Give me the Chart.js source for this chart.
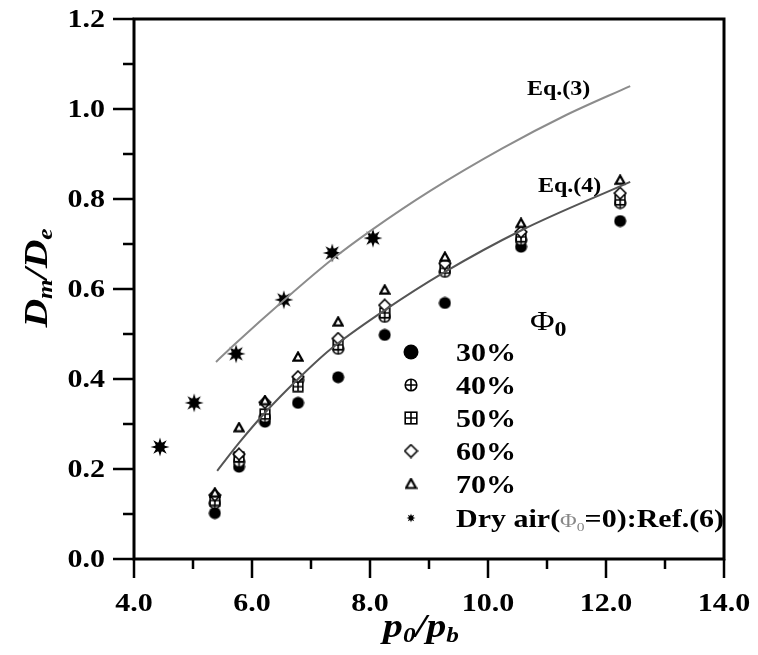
<!DOCTYPE html>
<html>
<head>
<meta charset="utf-8">
<script src="https://cdn.jsdelivr.net/npm/chart.js@4.4.0/dist/chart.umd.min.js"></script>
<style>
  html, body { margin: 0; padding: 0; background: #fff; }
  #chart { display: block; }
</style>
</head>
<body>
<canvas id="chart" width="758" height="655"></canvas>
<script>
// Measured points, x = p0/pb, y = Dm/De
const pressureRatio = [5.37, 5.78, 6.22, 6.78, 7.46, 8.25, 9.27, 10.56, 12.24];
const phi30 = [0.102, 0.205, 0.305, 0.347, 0.404, 0.498, 0.569, 0.694, 0.751];
const phi40 = [0.124, 0.216, 0.315, 0.398, 0.467, 0.538, 0.638, 0.709, 0.791];
const phi50 = [0.130, 0.227, 0.322, 0.383, 0.476, 0.547, 0.646, 0.716, 0.798];
const phi60 = [0.142, 0.233, 0.348, 0.405, 0.490, 0.564, 0.657, 0.727, 0.813];
const phi70 = [0.147, 0.292, 0.352, 0.449, 0.527, 0.598, 0.671, 0.746, 0.842];

// Dry air reference data
const dryAirX = [4.44, 5.02, 5.73, 6.54, 7.36, 8.05];
const dryAirY = [0.249, 0.347, 0.456, 0.576, 0.680, 0.713];

// Curves
const eq3X = [5.39, 5.73, 6.54, 7.36, 8.05, 9.02, 10.25, 11.30, 12.41];
const eq3Y = [0.438, 0.480, 0.575, 0.666, 0.733, 0.818, 0.913, 0.985, 1.051];
const eq4X = [5.41, 5.78, 6.22, 6.78, 7.32, 8.25, 9.27, 10.56, 12.41];
const eq4Y = [0.196, 0.258, 0.325, 0.400, 0.465, 0.553, 0.638, 0.730, 0.838];

// Axis ticks
const xTickValues = [4, 6, 8, 10, 12, 14];
const xTickLabels = ['4.0', '6.0', '8.0', '10.0', '12.0', '14.0'];
const yTickValues = [0, 0.2, 0.4, 0.6, 0.8, 1.0, 1.2];
const yTickLabels = ['0.0', '0.2', '0.4', '0.6', '0.8', '1.0', '1.2'];

const serif = '"Liberation Serif", "Times New Roman", serif';
const STRETCH = 1.2; // the source figure's lettering is a bit wide

// Build a small canvas used as a point style
function makeMarker(kind, size) {
    const c = document.createElement('canvas');
    c.width = size; c.height = size;
    const g = c.getContext('2d');
    const m = size / 2;
    g.strokeStyle = '#000';
    g.fillStyle = '#000';
    g.lineWidth = 1.6;
    if (kind === 'dot') {
        g.beginPath(); g.arc(m, m, m - 0.5, 0, Math.PI * 2); g.fill();
    } else if (kind === 'circlePlus') {
        const r = m - 1.2;
        g.fillStyle = '#fff';
        g.beginPath(); g.arc(m, m, r, 0, Math.PI * 2); g.fill(); g.stroke();
        g.beginPath(); g.moveTo(m - r, m); g.lineTo(m + r, m); g.moveTo(m, m - r); g.lineTo(m, m + r); g.stroke();
    } else if (kind === 'squarePlus') {
        const r = m - 1.2;
        g.fillStyle = '#fff';
        g.fillRect(m - r, m - r, 2 * r, 2 * r);
        g.strokeRect(m - r, m - r, 2 * r, 2 * r);
        g.beginPath(); g.moveTo(m - r, m); g.lineTo(m + r, m); g.moveTo(m, m - r); g.lineTo(m, m + r); g.stroke();
    } else if (kind === 'diamond') {
        const r = m - 1.2;
        g.fillStyle = '#fff';
        g.beginPath(); g.moveTo(m, m - r); g.lineTo(m + r, m); g.lineTo(m, m + r); g.lineTo(m - r, m); g.closePath();
        g.fill(); g.stroke();
    } else if (kind === 'triangle') {
        const r = m - 1.5;
        g.lineWidth = 2.2;
        g.fillStyle = '#fff';
        g.beginPath(); g.moveTo(m, m - r); g.lineTo(m + r, m + r * 0.8); g.lineTo(m - r, m + r * 0.8); g.closePath();
        g.fill(); g.stroke();
    } else if (kind === 'star') {
        const outer = m - 0.5, inner = m * 0.42;
        g.beginPath();
        for (let i = 0; i < 16; i++) {
            const a = i * Math.PI / 8 - Math.PI / 2;
            const r = i % 2 === 0 ? outer : inner;
            g.lineTo(m + r * Math.cos(a), m + r * Math.sin(a));
        }
        g.closePath(); g.fill();
        g.beginPath(); g.arc(m, m, m * 0.48, 0, Math.PI * 2); g.fill();
    }
    return c;
}

const markers = {
    p30: makeMarker('dot', 13),
    p40: makeMarker('circlePlus', 13),
    p50: makeMarker('squarePlus', 12),
    p60: makeMarker('diamond', 14),
    p70: makeMarker('triangle', 12),
    dry: makeMarker('star', 20)
};
const legendMarkers = {
    p30: makeMarker('dot', 16),
    p40: makeMarker('circlePlus', 14),
    p50: makeMarker('squarePlus', 14),
    p60: makeMarker('diamond', 15),
    p70: makeMarker('triangle', 13),
    dry: makeMarker('star', 10)
};

const toPoints = (xs, ys) => xs.map((x, i) => ({ x: x, y: ys[i] }));

function pointSet(label, ys, marker) {
    return {
        label: label,
        data: toPoints(pressureRatio, ys),
        showLine: false,
        pointStyle: marker,
        pointRadius: 6,
        pointHoverRadius: 6
    };
}

// Draw text made of pieces (used for subscripts), stretched horizontally
function drawPieces(ctx, parts, x, y, align) {
    let total = 0;
    parts.forEach(p => { ctx.font = p.font; p.w = ctx.measureText(p.t).width; total += p.w; });
    ctx.save();
    ctx.translate(x, y);
    ctx.scale(STRETCH, 1);
    let cx = align === 'center' ? -total / 2 : (align === 'right' ? -total : 0);
    ctx.textAlign = 'left';
    ctx.textBaseline = 'alphabetic';
    parts.forEach(p => {
        ctx.font = p.font;
        ctx.fillStyle = p.color || '#000';
        ctx.fillText(p.t, cx, p.dy || 0);
        cx += p.w;
    });
    ctx.restore();
}

const decorations = {
    id: 'decorations',
    afterDraw(chart) {
        const ctx = chart.ctx;
        const { left, right, top, bottom } = chart.chartArea;
        const xs = chart.scales.x, ys = chart.scales.y;
        ctx.save();
        ctx.strokeStyle = '#000';
        ctx.lineWidth = 3;
        ctx.strokeRect(left, top, right - left, bottom - top);

        // ticks: major and minor, pointing outward
        ctx.lineWidth = 2.5;
        ctx.beginPath();
        for (let v = 4; v <= 14; v += 1) {
            const px = xs.getPixelForValue(v);
            const len = v % 2 === 0 ? 19 : 10;
            ctx.moveTo(px, bottom); ctx.lineTo(px, bottom + len);
        }
        for (let k = 0; k <= 12; k++) {
            const py = ys.getPixelForValue(k / 10);
            const len = k % 2 === 0 ? 21 : 11;
            ctx.moveTo(left, py); ctx.lineTo(left - len, py);
        }
        ctx.stroke();

        // tick labels
        const tickFont = 'bold 25px ' + serif;
        xTickValues.forEach((v, i) => {
            drawPieces(ctx, [{ t: xTickLabels[i], font: tickFont }], xs.getPixelForValue(v), 611, 'center');
        });
        yTickValues.forEach((v, i) => {
            drawPieces(ctx, [{ t: yTickLabels[i], font: tickFont }], 105, ys.getPixelForValue(v) + 8, 'right');
        });

        // equation labels
        const eqFont = 'bold 20px ' + serif;
        drawPieces(ctx, [{ t: 'Eq.(3)', font: eqFont }], 527, 95, 'left');
        drawPieces(ctx, [{ t: 'Eq.(4)', font: eqFont }], 538, 192, 'left');

        // legend
        drawPieces(ctx, [
            { t: '\u03A6', font: '28px ' + serif },
            { t: '0', font: 'bold 20px ' + serif, dy: 6 }
        ], 530, 330, 'left');
        const rows = [
            ['p30', '30%'], ['p40', '40%'], ['p50', '50%'],
            ['p60', '60%'], ['p70', '70%']
        ];
        const rowY = [352, 385, 418, 451, 484, 518];
        const legFont = 'bold 25px ' + serif;
        rows.forEach((r, i) => {
            const mk = legendMarkers[r[0]];
            ctx.drawImage(mk, 411 - mk.width / 2, rowY[i] - mk.height / 2);
            drawPieces(ctx, [{ t: r[1], font: legFont }], 456, rowY[i] + 9, 'left');
        });
        const dm = legendMarkers.dry;
        ctx.drawImage(dm, 411 - dm.width / 2, rowY[5] - dm.height / 2);
        drawPieces(ctx, [
            { t: 'Dry air(', font: legFont },
            { t: '\u03A6', font: '19px ' + serif, color: '#888' },
            { t: '0', font: '13px ' + serif, color: '#888', dy: 4 },
            { t: '=0):Ref.(6)', font: legFont }
        ], 456, rowY[5] + 9, 'left');

        // axis titles
        const tBig = 'italic bold 33px ' + serif;
        const tSub = 'italic bold 21px ' + serif;
        drawPieces(ctx, [
            { t: 'p', font: tBig }, { t: '0', font: tSub, dy: 5 },
            { t: '/', font: tBig },
            { t: 'p', font: tBig }, { t: 'b', font: tSub, dy: 5 }
        ], 421, 637, 'center');

        ctx.translate(47, 278);
        ctx.rotate(-Math.PI / 2);
        drawPieces(ctx, [
            { t: 'D', font: tBig }, { t: 'm', font: tSub, dy: 5 },
            { t: '/', font: tBig },
            { t: 'D', font: tBig }, { t: 'e', font: tSub, dy: 5 }
        ], 0, 0, 'center');
        ctx.restore();
    }
};

function fixedSize(prop, size) {
    return (scale) => {
        scale[prop] = size;
        scale.paddingTop = 0; scale.paddingBottom = 0;
        scale.paddingLeft = 0; scale.paddingRight = 0;
    };
}

const config = {
    type: 'scatter',
    data: {
        datasets: [
            {
                label: 'Eq.(3)',
                data: toPoints(eq3X, eq3Y),
                showLine: true,
                borderColor: '#8c8c8c',
                borderWidth: 2,
                pointRadius: 0,
                cubicInterpolationMode: 'monotone'
            },
            {
                label: 'Eq.(4)',
                data: toPoints(eq4X, eq4Y),
                showLine: true,
                borderColor: '#555555',
                borderWidth: 2,
                pointRadius: 0,
                cubicInterpolationMode: 'monotone'
            },
            pointSet('70%', phi70, markers.p70),
            pointSet('60%', phi60, markers.p60),
            pointSet('50%', phi50, markers.p50),
            pointSet('40%', phi40, markers.p40),
            pointSet('30%', phi30, markers.p30),
            {
                label: 'Dry air',
                data: toPoints(dryAirX, dryAirY),
                showLine: false,
                pointStyle: markers.dry,
                pointRadius: 8
            }
        ]
    },
    options: {
        responsive: false,
        animation: false,
        devicePixelRatio: 1,
        layout: { padding: { left: 0, right: 34, top: 19, bottom: 0 } },
        plugins: {
            legend: { display: false },
            tooltip: { enabled: false }
        },
        scales: {
            x: {
                type: 'linear',
                min: 4, max: 14,
                grid: { display: false, drawTicks: false },
                border: { display: false },
                ticks: { display: false },
                afterFit: fixedSize('height', 96)
            },
            y: {
                type: 'linear',
                min: 0, max: 1.2,
                grid: { display: false, drawTicks: false },
                border: { display: false },
                ticks: { display: false },
                afterFit: fixedSize('width', 134)
            }
        }
    },
    plugins: [decorations]
};

new Chart(document.getElementById('chart'), config);
</script>
</body>
</html>
